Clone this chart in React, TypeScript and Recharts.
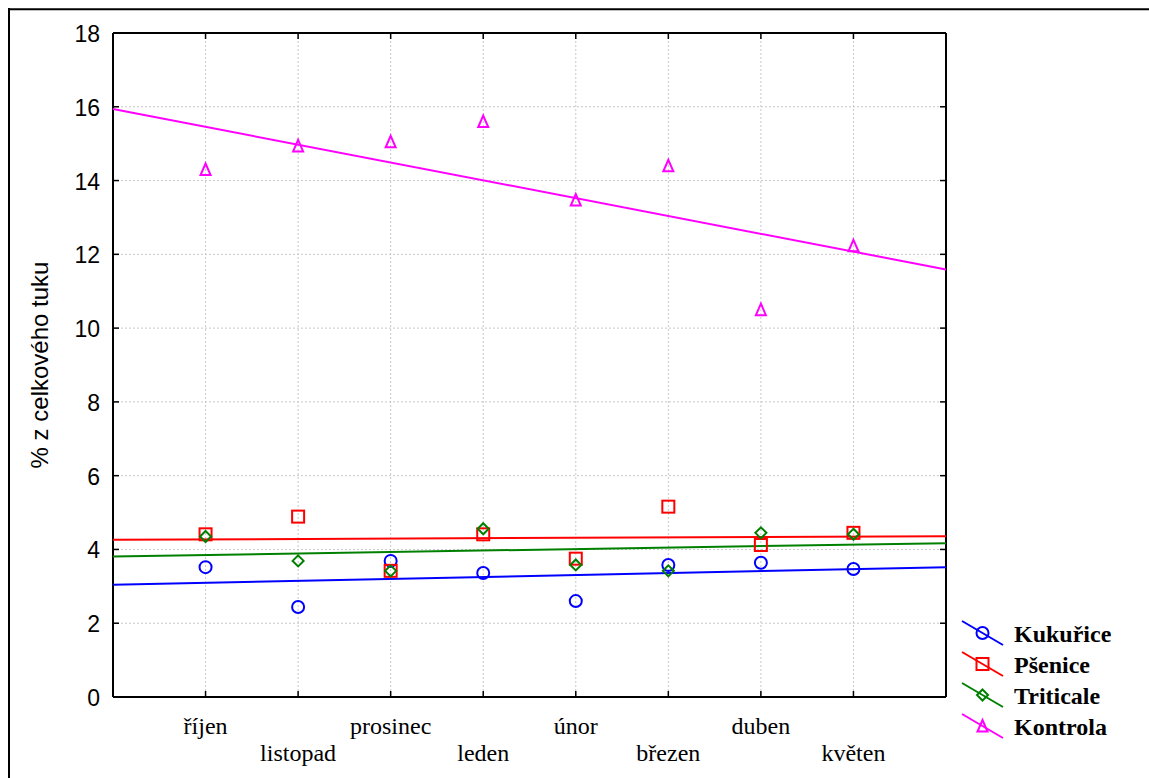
import React from 'react';
import { ScatterChart, Scatter, XAxis, YAxis, CartesianGrid } from 'recharts';

const months = ['říjen', 'listopad', 'prosinec', 'leden', 'únor', 'březen', 'duben', 'květen'];
const monthTicks = [1, 2, 3, 4, 5, 6, 7, 8];
const yTicks = [0, 2, 4, 6, 8, 10, 12, 14, 16, 18];

const kukurice = [3.52, 2.44, 3.69, 3.36, 2.6, 3.58, 3.64, 3.47];
const psenice = [4.41, 4.89, 3.42, 4.41, 3.75, 5.16, 4.12, 4.45];
const triticale = [4.35, 3.69, 3.42, 4.56, 3.58, 3.42, 4.45, 4.41];
const kontrola = [14.3, 14.94, 15.05, 15.6, 13.47, 14.4, 10.5, 12.23];

const trendX = [0, 9];
const kukuriceTrend = [3.04, 3.52];
const pseniceTrend = [4.26, 4.36];
const triticaleTrend = [3.81, 4.17];
const kontrolaTrend = [15.94, 11.59];

type Marker = 'circle' | 'square' | 'diamond' | 'triangle';

const series: { name: string; values: number[]; trend: number[]; color: string; marker: Marker }[] = [
  { name: 'Kukuřice', values: kukurice, trend: kukuriceTrend, color: '#0000ff', marker: 'circle' },
  { name: 'Pšenice', values: psenice, trend: pseniceTrend, color: '#ff0000', marker: 'square' },
  { name: 'Triticale', values: triticale, trend: triticaleTrend, color: '#008000', marker: 'diamond' },
  { name: 'Kontrola', values: kontrola, trend: kontrolaTrend, color: '#ff00ff', marker: 'triangle' },
];

const SANS = "'Liberation Sans', Arial, sans-serif";
const SERIF = "'Liberation Serif', 'Times New Roman', serif";

const drawMarker = (kind: Marker, cx: number, cy: number, color: string) => {
  const common = { fill: 'none', stroke: color, strokeWidth: 2 };
  if (kind === 'circle') return <circle cx={cx} cy={cy} r={6} {...common} />;
  if (kind === 'square') return <rect x={cx - 6} y={cy - 6} width={12} height={12} {...common} />;
  if (kind === 'diamond')
    return <polygon points={`${cx},${cy - 5.5} ${cx + 5.5},${cy} ${cx},${cy + 5.5} ${cx - 5.5},${cy}`} {...common} />;
  return <polygon points={`${cx},${cy - 6} ${cx + 5},${cy + 5.5} ${cx - 5},${cy + 5.5}`} {...common} />;
};

const BottomTick = (props: any) => {
  const { x, y, payload } = props;
  const i = monthTicks.indexOf(payload.value);
  const row = i % 2;
  return (
    <g>
      <line x1={x} y1={y} x2={x} y2={y - 6} stroke="#000" strokeWidth={1.5} />
      <text x={x} y={y + 37 + row * 27} textAnchor="middle" fontFamily={SERIF} fontSize={24} fill="#000">
        {months[i]}
      </text>
    </g>
  );
};

const TopTick = (props: any) => {
  const { x, y } = props;
  return <line x1={x} y1={y} x2={x} y2={y + 6} stroke="#000" strokeWidth={1.5} />;
};

const LeftTick = (props: any) => {
  const { x, y, payload } = props;
  return (
    <g>
      <line x1={x} y1={y} x2={x + 6} y2={y} stroke="#000" strokeWidth={1.5} />
      <text x={x - 13} y={y + 9} textAnchor="end" fontFamily={SANS} fontSize={23} fill="#000">
        {payload.value}
      </text>
    </g>
  );
};

const RightTick = (props: any) => {
  const { x, y } = props;
  return <line x1={x} y1={y} x2={x - 6} y2={y} stroke="#000" strokeWidth={1.5} />;
};

const YLabel = (props: any) => {
  const vb = props.viewBox || { x: 0, y: 32, width: 113, height: 665 };
  const cx = 39;
  const cy = vb.y + vb.height / 2;
  return (
    <text
      x={cx}
      y={cy}
      transform={`rotate(-90 ${cx} ${cy})`}
      textAnchor="middle"
      dominantBaseline="central"
      fontFamily={SANS}
      fontSize={24}
      fill="#000"
    >
      % z celkového tuku
    </text>
  );
};

export default function App() {
  return (
    <div style={{ position: 'absolute', left: 0, top: 0, width: 1149, height: 778, background: '#fff' }}>
      <ScatterChart width={1149} height={778} margin={{ top: 32, right: 202, bottom: 0, left: 0 }}>
        <CartesianGrid stroke="#c8c8c8" strokeDasharray="2 2" />
        <XAxis
          dataKey="x"
          type="number"
          domain={[0, 9]}
          ticks={monthTicks}
          height={81}
          tickSize={0}
          tickMargin={0}
          tickLine={false}
          tick={<BottomTick />}
          axisLine={{ stroke: '#000', strokeWidth: 2 }}
        />
        <XAxis
          xAxisId="top"
          dataKey="x"
          orientation="top"
          type="number"
          domain={[0, 9]}
          ticks={monthTicks}
          height={1}
          tickSize={0}
          tickMargin={0}
          tickLine={false}
          tick={<TopTick />}
          axisLine={{ stroke: '#000', strokeWidth: 2 }}
        />
        <YAxis
          dataKey="y"
          type="number"
          domain={[0, 18]}
          ticks={yTicks}
          width={113}
          tickSize={0}
          tickMargin={0}
          tickLine={false}
          tick={<LeftTick />}
          axisLine={{ stroke: '#000', strokeWidth: 2 }}
          label={<YLabel />}
        />
        <YAxis
          yAxisId="right"
          dataKey="y"
          orientation="right"
          type="number"
          domain={[0, 18]}
          ticks={yTicks}
          width={1}
          tickSize={0}
          tickMargin={0}
          tickLine={false}
          tick={<RightTick />}
          axisLine={{ stroke: '#000', strokeWidth: 2 }}
        />
        {series.map((s) => (
          <Scatter
            key={`trend-${s.name}`}
            xAxisId="top"
            yAxisId="right"
            data={trendX.map((x, i) => ({ x, y: s.trend[i] }))}
            line={{ stroke: s.color, strokeWidth: 2 }}
            shape={() => <g />}
            isAnimationActive={false}
          />
        ))}
        {series.map((s) => (
          <Scatter
            key={`pts-${s.name}`}
            name={s.name}
            data={s.values.map((y, i) => ({ x: monthTicks[i], y }))}
            shape={(p: any) => drawMarker(s.marker, p.cx, p.cy, s.color)}
            isAnimationActive={false}
          />
        ))}
      </ScatterChart>

      {/* outer frame and legend */}
      <svg width={1149} height={778} style={{ position: 'absolute', left: 0, top: 0, pointerEvents: 'none' }}>
        <line x1={8} y1={9.3} x2={1149} y2={9.3} stroke="#000" strokeWidth={2} />
        <line x1={9} y1={8} x2={9} y2={778} stroke="#000" strokeWidth={2} />
        {series.map((s, i) => {
          const cy = 633 + i * 31;
          return (
            <g key={s.name}>
              <line x1={962} y1={cy - 12} x2={1003} y2={cy + 12} stroke={s.color} strokeWidth={2} />
              <g>{drawMarker(s.marker, 982.5, cy, s.color)}</g>
              <text x={1014} y={cy + 8.5} fontFamily={SERIF} fontWeight="bold" fontSize={24} fill="#000">
                {s.name}
              </text>
            </g>
          );
        })}
      </svg>
    </div>
  );
}
